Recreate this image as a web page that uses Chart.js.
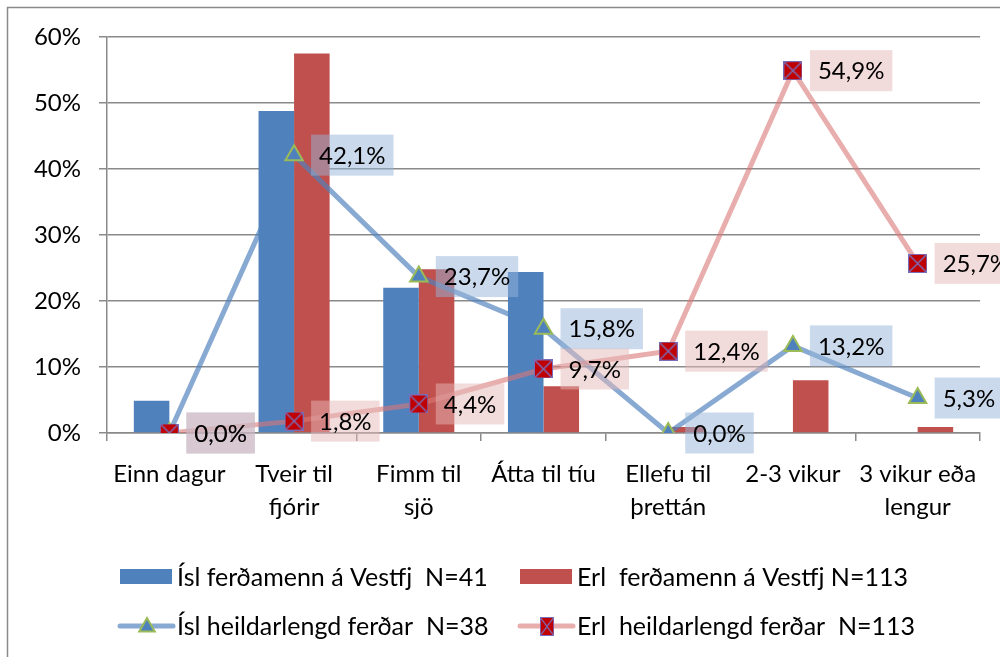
<!DOCTYPE html>
<html>
<head>
<meta charset="utf-8">
<title>Lengd ferðar</title>
<script src="https://cdn.jsdelivr.net/npm/chart.js@4/dist/chart.umd.min.js"></script>
<style>
    html, body { margin: 0; padding: 0; background: #fff; overflow: hidden; }
    #chartBox { width: 1000px; height: 657px; }
</style>
</head>
<body>
<div id="chartBox"><canvas id="lengdChart" width="1000" height="657"></canvas></div>
<script>
// Flokkar (lengd ferðar)
const categories = [
    'Einn dagur',
    ['Tveir til', 'fjórir'],
    ['Fimm til', 'sjö'],
    'Átta til tíu',
    ['Ellefu til', 'þrettán'],
    '2-3 vikur',
    ['3 vikur eða', 'lengur']
];

// Súlur, % af svarendum
const islVestfj = [4.9, 48.8, 22.0, 24.4, 0, 0, 0];
const erlVestfj = [0, 57.5, 24.8, 7.1, 0.9, 8.0, 0.9];

// Línur, heildarlengd ferðar %
const islHeild = [0, 42.1, 23.7, 15.8, 0, 13.2, 5.3];
const erlHeild = [0, 1.8, 4.4, 9.7, 12.4, 54.9, 25.7];

const yTicks = [0, 10, 20, 30, 40, 50, 60];

const seriesNames = [
    'Ísl ferðamenn á Vestfj  N=41',
    'Erl  ferðamenn á Vestfj N=113',
    'Ísl heildarlengd ferðar  N=38',
    'Erl  heildarlengd ferðar  N=113'
];

const FONT = 'Lato, "Open Sans", sans-serif';
const GRID = '#8a8a8a';

document.addEventListener('DOMContentLoaded', () => {
    const canvas = document.getElementById('lengdChart');

    // rauður ferningur með krossi, eins og í Excel
    const crossMarker = document.createElement('canvas');
    crossMarker.width = 19;
    crossMarker.height = 19;
    const mctx = crossMarker.getContext('2d');
    mctx.fillStyle = '#C00000';
    mctx.fillRect(0, 0, 19, 19);
    mctx.strokeStyle = '#7a6cb8';
    mctx.lineWidth = 1;
    mctx.strokeRect(0.5, 0.5, 18, 18);
    mctx.lineWidth = 1.5;
    mctx.beginPath();
    mctx.moveTo(1, 1); mctx.lineTo(18, 18);
    mctx.moveTo(18, 1); mctx.lineTo(1, 18);
    mctx.stroke();

    function fmt(v) {
        return v.toFixed(1).replace('.', ',') + '%';
    }

    function drawTriangle(ctx, x, y, r) {
        ctx.beginPath();
        ctx.moveTo(x, y - r);
        ctx.lineTo(x + r * 0.866, y + r * 0.5);
        ctx.lineTo(x - r * 0.866, y + r * 0.5);
        ctx.closePath();
        ctx.fillStyle = '#4F81BD';
        ctx.fill();
        ctx.strokeStyle = '#9BBB59';
        ctx.lineWidth = 2;
        ctx.stroke();
    }

    // gildi við línupunktana, með hálfgegnsæjum kassa
    const valueLabels = {
        id: 'valueLabels',
        afterDatasetsDraw(chart) {
            const ctx = chart.ctx;
            ctx.save();
            ctx.font = '24px ' + FONT;
            ctx.textBaseline = 'middle';
            chart.data.datasets.forEach((ds, i) => {
                if (!ds.labelBg) return;
                const meta = chart.getDatasetMeta(i);
                meta.data.forEach((pt, j) => {
                    const txt = fmt(ds.data[j]);
                    const w = ctx.measureText(txt).width + 16;
                    const bx = pt.x + 17;
                    ctx.fillStyle = ds.labelBg;
                    ctx.fillRect(bx, pt.y - 20.5, w, 41);
                    ctx.fillStyle = '#000';
                    ctx.fillText(txt, bx + 8, pt.y + 1);
                });
            });
            ctx.restore();
        }
    };

    // rammi og skýringar neðst
    const frameAndLegend = {
        id: 'frameAndLegend',
        beforeDraw(chart) {
            const ctx = chart.ctx;
            ctx.save();
            ctx.strokeStyle = GRID;
            ctx.lineWidth = 1.5;
            ctx.strokeRect(7.5, 7.5, 1100, 800);
            ctx.restore();
        },
        afterDraw(chart) {
            const ctx = chart.ctx;
            const cols = [120, 520];
            const rows = [577, 626];
            ctx.save();
            ctx.font = '25px ' + FONT;
            ctx.textBaseline = 'middle';
            chart.data.datasets.forEach((ds, i) => {
                const x = cols[i % 2];
                const y = rows[Math.floor(i / 2)];
                if (ds.type === 'bar') {
                    ctx.fillStyle = ds.backgroundColor;
                    ctx.fillRect(x, y - 8, 52, 15);
                } else {
                    ctx.strokeStyle = ds.borderColor;
                    ctx.lineWidth = 5;
                    ctx.lineCap = 'round';
                    ctx.beginPath();
                    ctx.moveTo(x, y);
                    ctx.lineTo(x + 53, y);
                    ctx.stroke();
                    if (ds.pointStyle === 'triangle') {
                        drawTriangle(ctx, x + 27, y + 1, 9);
                    } else {
                        ctx.drawImage(crossMarker, x + 27 - 7, y - 9, 14, 19);
                    }
                }
                ctx.fillStyle = '#000';
                ctx.fillText(ds.label, x + 57, y + 1);
            });
            ctx.restore();
        }
    };

    const startChart = () => new Chart(canvas.getContext('2d'), {
        data: {
            labels: categories,
            datasets: [
                {
                    type: 'bar',
                    label: seriesNames[0],
                    data: islVestfj,
                    backgroundColor: '#4F81BD',
                    order: 3
                },
                {
                    type: 'bar',
                    label: seriesNames[1],
                    data: erlVestfj,
                    backgroundColor: '#C0504D',
                    order: 3
                },
                {
                    type: 'line',
                    label: seriesNames[2],
                    data: islHeild,
                    borderColor: 'rgba(79, 129, 189, 0.68)',
                    borderWidth: 5,
                    pointStyle: 'triangle',
                    pointRadius: 10,
                    pointBackgroundColor: '#4F81BD',
                    pointBorderColor: '#9BBB59',
                    pointBorderWidth: 2,
                    labelBg: 'rgba(149, 179, 215, 0.5)',
                    tension: 0,
                    order: 1
                },
                {
                    type: 'line',
                    label: seriesNames[3],
                    data: erlHeild,
                    borderColor: 'rgba(217, 120, 118, 0.6)',
                    borderWidth: 5,
                    pointStyle: crossMarker,
                    pointRadius: 10,
                    labelBg: 'rgba(230, 184, 183, 0.5)',
                    tension: 0,
                    order: 0
                }
            ]
        },
        options: {
            responsive: false,
            animation: false,
            layout: { padding: { top: 37, right: 20, bottom: 0, left: 0 } },
            datasets: {
                bar: { barPercentage: 1, categoryPercentage: 0.57 }
            },
            plugins: {
                legend: { display: false },
                tooltip: { enabled: false }
            },
            scales: {
                x: {
                    afterFit: s => { s.height = 224; },
                    grid: {
                        offset: true,
                        drawOnChartArea: false,
                        color: GRID,
                        lineWidth: 1.5,
                        tickLength: 8
                    },
                    border: { color: GRID, width: 1.5 },
                    ticks: {
                        color: '#000',
                        padding: 17,
                        font: { family: FONT, size: 24, lineHeight: 1.375 }
                    }
                },
                y: {
                    min: yTicks[0],
                    max: yTicks[yTicks.length - 1],
                    afterFit: s => { s.width = 107; },
                    afterBuildTicks: s => { s.ticks = yTicks.map(v => ({ value: v })); },
                    grid: { color: GRID, lineWidth: 1.5, tickLength: 8 },
                    border: { color: GRID, width: 1.5 },
                    ticks: {
                        color: '#000',
                        padding: 18,
                        font: { family: FONT, size: 24 },
                        callback: v => v + '%'
                    }
                }
            }
        },
        plugins: [valueLabels, frameAndLegend]
    });

    document.fonts.load('24px Lato').then(startChart, startChart);
});
</script>
</body>
</html>
